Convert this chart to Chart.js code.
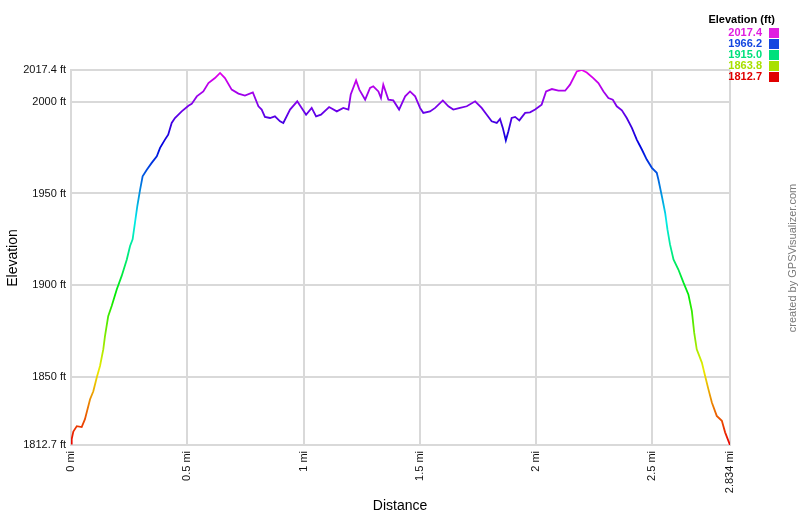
<!DOCTYPE html>
<html>
<head>
<meta charset="utf-8">
<script src="https://cdn.jsdelivr.net/npm/chart.js@4/dist/chart.umd.min.js"></script>
<style>
html,body{margin:0;padding:0;background:#fff;}
canvas{display:block;}
</style>
</head>
<body>
<canvas id="c" width="800" height="517"></canvas>
<script>
// Distance (mi)
const distances = [0,0.003,0.010,0.025,0.046,0.060,0.082,0.096,0.111,0.125,0.139,0.146,0.160,0.175,0.197,0.218,0.240,0.254,0.265,0.275,0.285,0.297,0.308,0.326,0.347,0.369,0.383,0.404,0.418,0.433,0.447,0.476,0.505,0.519,0.541,0.569,0.591,0.619,0.641,0.662,0.691,0.720,0.748,0.782,0.806,0.820,0.834,0.856,0.877,0.899,0.913,0.942,0.973,0.992,1.011,1.035,1.054,1.075,1.110,1.143,1.171,1.193,1.203,1.226,1.240,1.265,1.286,1.300,1.322,1.333,1.343,1.365,1.386,1.411,1.437,1.458,1.480,1.501,1.515,1.544,1.566,1.599,1.623,1.644,1.673,1.702,1.738,1.766,1.788,1.809,1.831,1.845,1.857,1.870,1.881,1.895,1.910,1.928,1.953,1.974,1.996,2.024,2.043,2.068,2.096,2.125,2.146,2.175,2.197,2.218,2.246,2.268,2.290,2.311,2.330,2.347,2.369,2.390,2.412,2.433,2.455,2.476,2.498,2.519,2.526,2.541,2.555,2.565,2.576,2.591,2.612,2.634,2.655,2.670,2.680,2.691,2.713,2.727,2.741,2.756,2.777,2.799,2.813,2.834];
// Elevation (ft)
const elevations = [1813.5,1816,1820,1823,1822.5,1826.8,1837.7,1842,1849.7,1856,1865,1872,1883,1888.6,1897.7,1905,1914,1921.3,1925,1934,1943,1952,1959.4,1963,1966.7,1970.3,1974.9,1979.4,1982.1,1988.5,1991.2,1994.8,1997.9,1998.9,2003,2005.7,2010.3,2013,2015.8,2013,2006.7,2004.5,2003.4,2005.2,1997.6,1995.8,1991.8,1991.2,1992.1,1989.4,1988.5,1995.8,2000.3,1996.7,1993,1996.7,1992.1,1993,1997.2,1994.8,1996.7,1995.8,2004,2011.7,2006.7,2001.2,2007.6,2008.5,2005.7,2002.1,2009.4,2001.2,2000.8,1995.8,2003,2005.7,2003,1996.7,1994,1994.8,1996.7,2000.8,1997.6,1995.8,1996.7,1997.6,2000.3,1996.7,1993,1989.4,1988.5,1990.7,1985.8,1979,1984,1991.2,1991.8,1989.9,1994,1994.3,1995.8,1998.5,2005.7,2007,2006.1,2006.1,2009.4,2016.6,2017.4,2016,2013,2010.3,2005.7,2002.1,2001.2,1997.6,1995.4,1991.2,1985.8,1979.4,1974,1968.5,1964,1961.3,1957.6,1948.5,1939.5,1930.4,1922.2,1914,1908.5,1901.3,1894.9,1885.8,1874,1864.9,1857.7,1850.4,1843.2,1835.9,1828.6,1825.9,1819.6,1812.7];

const xTickValues = [0,0.5,1,1.5,2,2.5,2.834];
const xTickLabels = ['0 mi','0.5 mi','1 mi','1.5 mi','2 mi','2.5 mi','2.834 mi'];
const yTickValues = [1812.7,1850,1900,1950,2000,2017.4];
const yTickLabels = ['1812.7 ft','1850 ft','1900 ft','1950 ft','2000 ft','2017.4 ft'];
const legendValues = ['2017.4','1966.2','1915.0','1863.8','1812.7'];
const legendColors = ['#e01ee0','#1446e0','#00e07c','#a8e000','#e00000'];

const yMin = 1812.7, yMax = 2017.4, xMax = 2.834;
const FONT = '"Liberation Sans", Arial, sans-serif';

function lineGradient(ctx){
  const chart = ctx.chart;
  const area = chart.chartArea;
  if(!area) return '#800080';
  const g = chart.ctx.createLinearGradient(0, area.bottom, 0, area.top);
  for(let i=0;i<=20;i++){
    const f = i/20;
    g.addColorStop(f, 'hsl(' + (300*f).toFixed(1) + ',100%,' + (f>0.6 && f<0.9 ? 44 : 46) + '%)');
  }
  return g;
}

const decorPlugin = {
  id:'decor',
  afterDraw(chart){
    const c = chart.ctx;
    c.save();
    // Axis titles
    c.fillStyle = '#000';
    c.font = '14px ' + FONT;
    c.textAlign = 'center';
    c.textBaseline = 'middle';
    c.fillText('Distance', 400, 506);
    c.save();
    c.translate(13, 258);
    c.rotate(-Math.PI/2);
    c.fillText('Elevation', 0, 0);
    c.restore();
    // credit
    c.save();
    c.fillStyle = '#7a7a7a';
    c.font = '11px ' + FONT;
    c.translate(793, 258);
    c.rotate(-Math.PI/2);
    c.fillText('created by GPSVisualizer.com', 0, 0);
    c.restore();
    // legend
    c.font = 'bold 11px ' + FONT;
    c.textAlign = 'right';
    c.fillStyle = '#000';
    c.fillText('Elevation (ft)', 775, 20);
    for(let i=0;i<legendValues.length;i++){
      const y = 33 + i*11;
      c.fillStyle = legendColors[i];
      c.fillText(legendValues[i], 762, y);
      c.fillRect(769, y-5, 10, 10);
    }
    c.restore();
  }
};

new Chart(document.getElementById('c'), {
  type:'line',
  data:{
    labels: distances,
    datasets:[{
      data: distances.map((d,i)=>({x:d, y:elevations[i]})),
      borderColor: lineGradient,
      borderWidth: 1.8,
      pointRadius: 0,
      tension: 0,
      fill: false
    }]
  },
  options:{
    responsive:false,
    animation:false,
    layout:{padding:{top:70,right:70,left:0,bottom:0}},
    plugins:{legend:{display:false}, tooltip:{enabled:false}},
    scales:{
      x:{
        type:'linear', min:0, max:xMax,
        afterBuildTicks(s){ s.ticks = xTickValues.map(v=>({value:v})); },
        afterFit(s){ s.height = 72; },
        grid:{color:'#d9d9d9', lineWidth:2, drawTicks:false},
        border:{display:true, color:'#d9d9d9', width:2},
        ticks:{
          autoSkip:false, minRotation:90, maxRotation:90, padding:6,
          color:'#111', font:{family:FONT, size:11},
          callback:(v,i)=>xTickLabels[i]
        }
      },
      y:{
        type:'linear', min:yMin, max:yMax,
        afterBuildTicks(s){ s.ticks = yTickValues.map(v=>({value:v})); },
        afterFit(s){ s.width = 71; },
        grid:{color:'#d9d9d9', lineWidth:2, drawTicks:false},
        border:{display:true, color:'#d9d9d9', width:2},
        ticks:{
          autoSkip:false, padding:5,
          color:'#111', font:{family:FONT, size:11},
          callback:(v,i)=>yTickLabels[i]
        }
      }
    }
  },
  plugins:[decorPlugin]
});
</script>
</body>
</html>
